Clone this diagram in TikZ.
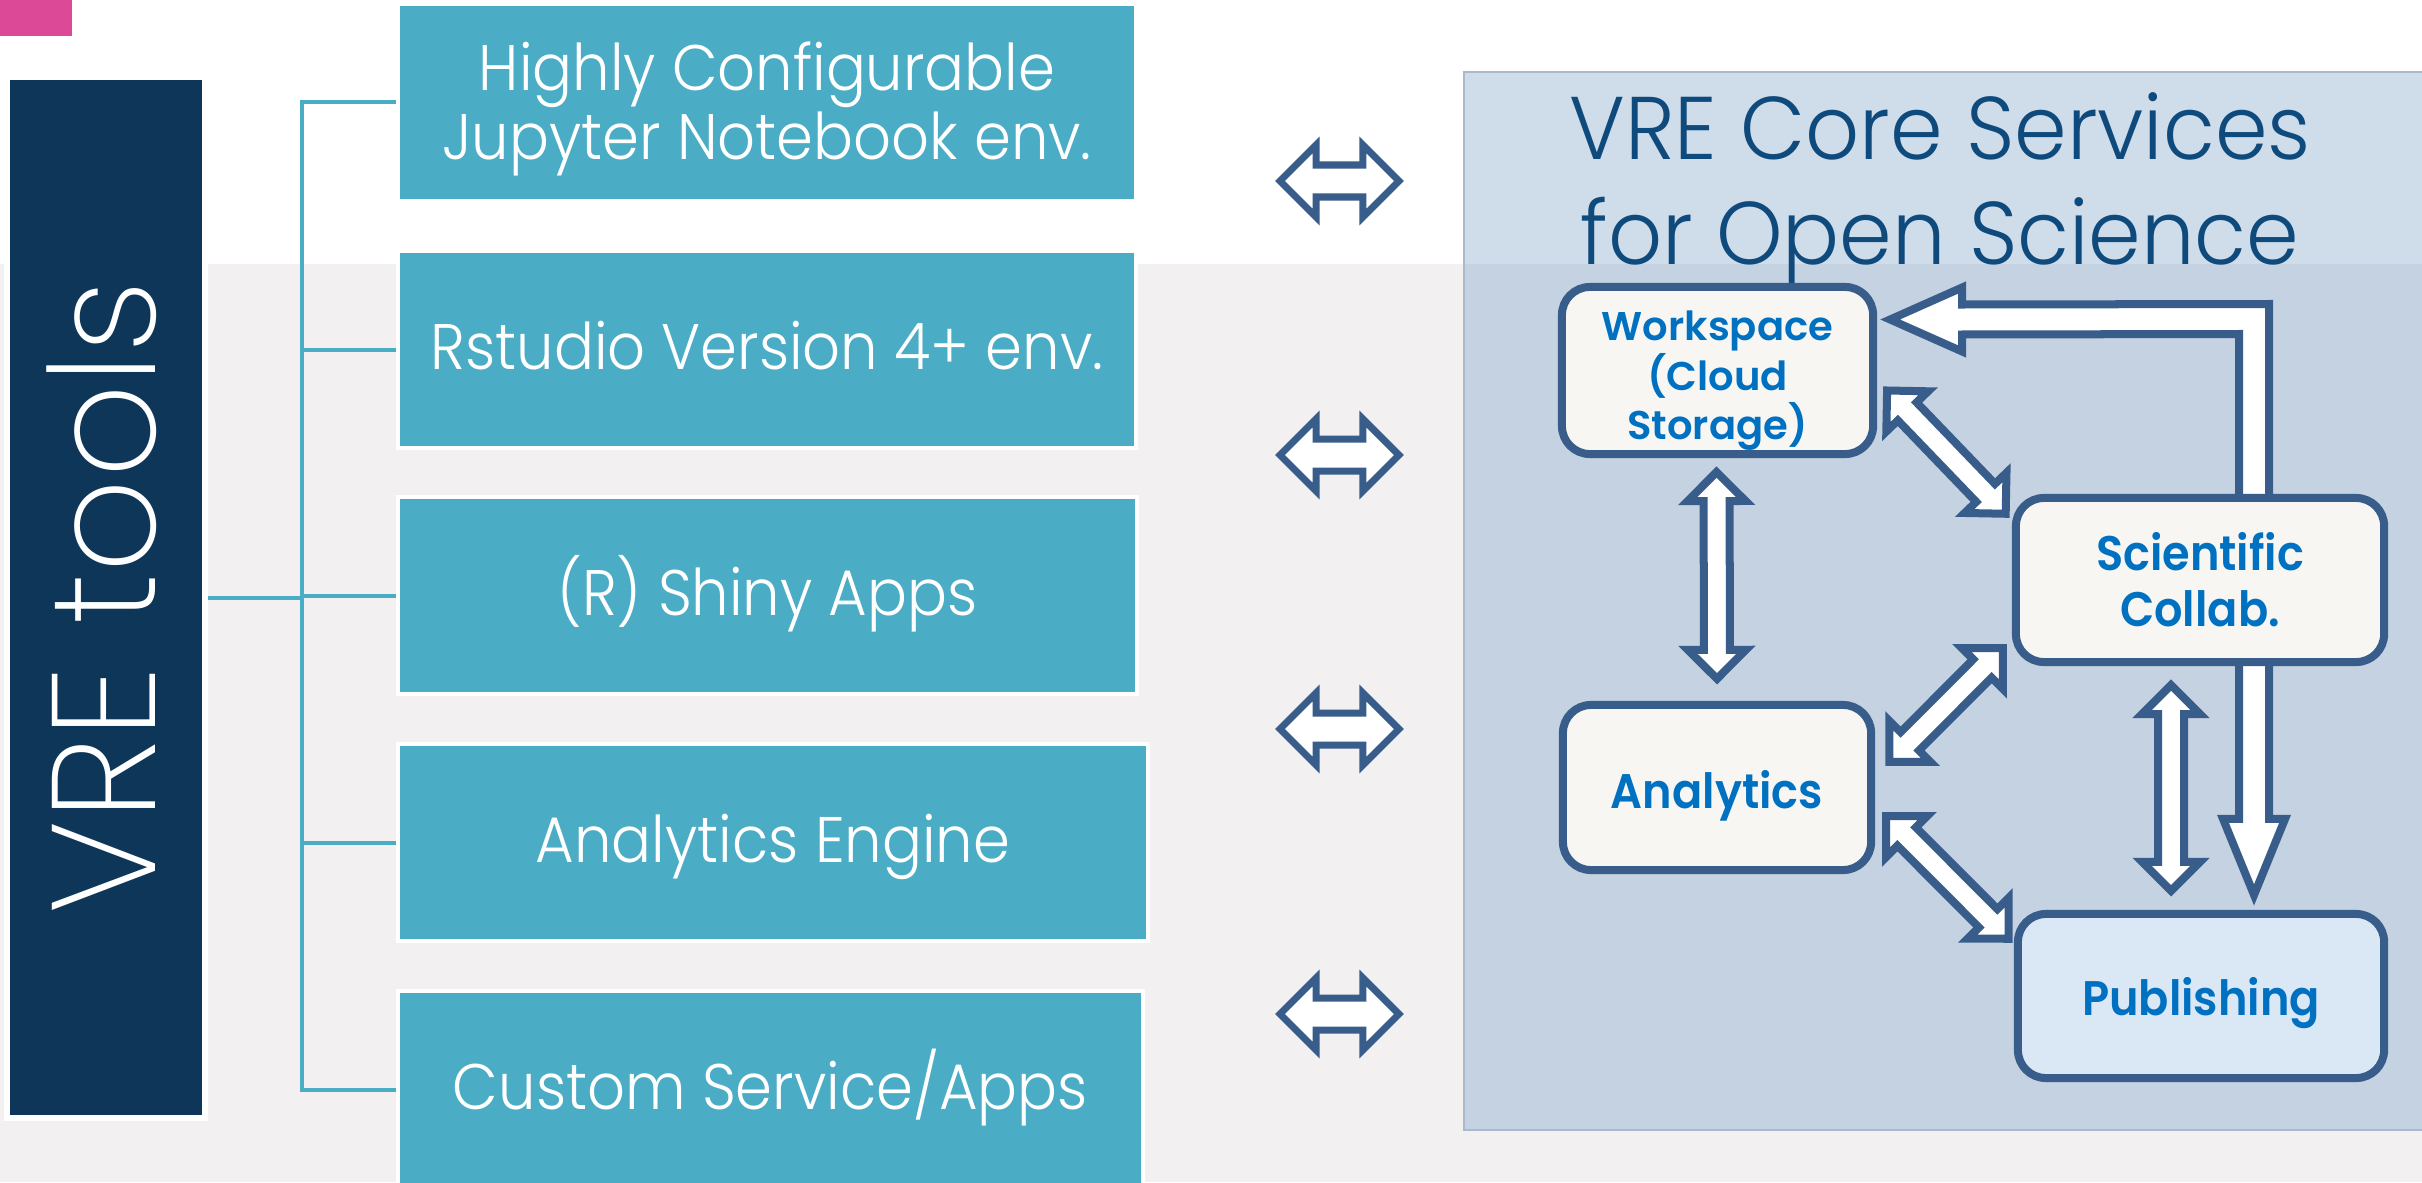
\documentclass[tikz,border=0pt]{standalone}
\usepackage{fontspec}
\setmainfont{Poppins}
\newfontfamily\lightfont{Poppins Light}[FakeStretch=0.92]
\newfontfamily\titlefont{Poppins Light}[FakeStretch=0.95]
\newfontfamily\thinfont{Poppins ExtraLight}
\newfontfamily\semifont{Poppins SemiBold}
\newfontfamily\semicond{Poppins SemiBold}[FakeStretch=0.92]
\usetikzlibrary{calc}

\definecolor{toolteal}{HTML}{4BACC6}
\definecolor{vredark}{HTML}{0E3659}
\definecolor{pinkbar}{HTML}{DC4A97}
\definecolor{bandgray}{HTML}{F2F0F1}
\definecolor{paneltop}{HTML}{CFDCEA}
\definecolor{panelbot}{HTML}{C5D2E2}
\definecolor{panelline}{HTML}{AAB9CE}
\definecolor{arrowblue}{HTML}{385D8A}
\definecolor{corefill}{HTML}{F7F6F3}
\definecolor{coretext}{HTML}{0070C0}
\definecolor{pubfill}{HTML}{DAE8F6}
\definecolor{titleblue}{HTML}{0F4A7D}

\tikzset{
    tool_node/.style = {rectangle, fill=toolteal, draw=white, line width=0.04cm, minimum height=1.96cm, inner sep=0pt, align=center, text=white, font=\lightfont\fontsize{18.3}{19.6}\selectfont},
    one_line/.style = {text height=0.45cm, text depth=0.06cm},
    vre_node/.style = {rectangle, fill=vredark, draw=white, line width=0.06cm, minimum width=1.98cm, minimum height=10.41cm, inner sep=0pt},
    core_node/.style = {rectangle, rounded corners=0.28cm, fill=corefill, draw=arrowblue, line width=0.08cm, inner sep=0pt, align=center, text=coretext, font=\semicond\fontsize{13.8}{15.9}\selectfont},
    fat_arrow/.style = {draw=arrowblue, fill=white, line width=0.08cm, line join=miter},
    br_line/.style = {draw=toolteal, line width=0.04cm}
}

% double block arrow: #2 half shaft, #3 head size (px), from #4 to #5
\newcommand{\dblarrow}[5][]{%
    \path let \p1=($(#5)-(#4)$) in \pgfextra{%
        \pgfmathsetmacro{\arrlen}{veclen(\x1,\y1)}%
        \pgfmathsetmacro{\arrang}{atan2(\y1,\x1)}%
        \global\let\arrlen\arrlen\global\let\arrang\arrang};
    \begin{scope}[shift={(#4)}, rotate=\arrang, x=0.01cm, y=0.01cm]
        \pgfmathsetmacro{\arrpx}{\arrlen/0.284528}
        \draw[fat_arrow, #1] (0,0) -- (#3,#3) -- (#3,#2) -- (\arrpx-#3,#2) -- (\arrpx-#3,#3) -- (\arrpx,0)
            -- (\arrpx-#3,-#3) -- (\arrpx-#3,-#2) -- (#3,-#2) -- (#3,-#3) -- cycle;
    \end{scope}}

\begin{document}
\begin{tikzpicture}[x=0.01cm, y=-0.01cm]
    \useasboundingbox (0,0) rectangle (2422,1182);
    \clip (0,0) rectangle (2422,1182);

    % background
    \fill[white] (0,0) rectangle (2422,1182);
    \fill[bandgray] (0,264) rectangle (2422,1182);
    \fill[pinkbar] (0,0) rectangle (72,36);

    % tools column
    \node[vre_node] (vre) at (106,597.5) {};
    \node[anchor=base, rotate=90, text=white, inner sep=0pt, font=\thinfont\fontsize{41.8}{41.8}\selectfont] (vretxt) at (155,597.5) {VRE tools};

    \node[tool_node, minimum width=7.38cm] (t1) at (767,102.5) {\rule{0pt}{0.62cm}Highly Configurable\\Jupyter Notebook env.};
    \node[tool_node, one_line, minimum width=7.38cm] (t2) at (767,349.5) {Rstudio Version 4+ env.};
    \node[tool_node, one_line, minimum width=7.39cm] (t3) at (767.5,595.5) {(R) Shiny Apps};
    \node[tool_node, one_line, minimum width=7.50cm] (t4) at (773,842.5) {Analytics Engine};
    \node[tool_node, one_line, minimum width=7.45cm] (t5) at (770.5,1089.5) {Custom Service/Apps};

    \coordinate (br) at (302,0);
    \draw[br_line] (t1.west) -| (br |- t5.west) -- (t5.west);
    \foreach \t in {t2,t3,t4}
        \draw[br_line] (\t.west) -- (\t.west -| br);
    \draw[br_line] (vre.east) -- (vre.east -| br);

    % links to the core
    \foreach \y [count=\i] in {181,455,729,1014} {
        \coordinate (la\i) at (1280,\y);
        \coordinate (ra\i) at (1399,\y);
        \dblarrow[line width=0.07cm]{16}{36}{la\i}{ra\i}
    }

    % core services panel
    \fill[paneltop] (1464,72) rectangle (2430,264);
    \fill[panelbot] (1464,264) rectangle (2430,1130);
    \draw[panelline, line width=0.02cm] (2430,72) -| (1464,1130) -- (2430,1130);

    \node[font=\titlefont\fontsize{25.3}{29.9}\selectfont, text=titleblue, align=center, inner sep=0pt] (title) at (1940,190) {VRE Core Services\\for Open Science};

    \node[core_node, minimum width=3.11cm, minimum height=1.67cm, font=\semifont\fontsize{11.4}{14.2}\selectfont] (ws) at (1717.5,370.5) {\rule{0pt}{0.5cm}Workspace\\(Cloud\\Storage)};
    \node[core_node, text height=0.41cm, text depth=0pt, minimum width=3.08cm, minimum height=1.65cm] (an) at (1717,787.5) {Analytics};
    \node[core_node, text height=0.38cm, text depth=0pt, fill=pubfill, minimum width=3.66cm, minimum height=1.64cm] (pub) at (2201,996) {Publishing};

    % loop back from publishing to workspace
    \coordinate (wstip) at ($(ws.east)+(13,-51)$);
    \coordinate (pubtip) at ($(pub.north)+(53,-15)$);
    \coordinate (bend) at (2254,319);
    \draw[fat_arrow] (wstip) -- ++(72,-32) -- ++(0,17) -- ($(bend)+(15,-15)$) -- ($(pubtip)+(15,-76)$) -- ++(16,0)
        -- (pubtip) -- ++(-31,-76) -- ++(16,0) -- ($(bend)+(-15,15)$) -- ($(wstip)+(72,15)$) -- ++(0,17) -- cycle;

    \node[core_node, minimum width=3.68cm, minimum height=1.64cm] (sc) at (2200,580) {Scientific\\Collab.};

    \coordinate (d1a) at ($(ws.south)+(-1,14)$);
    \coordinate (d1b) at ($(an.north)+(0,-22)$);
    \coordinate (d2a) at ($(sc.south)+(-29,19)$);
    \coordinate (d2b) at ($(pub.north)+(-30,-19)$);
    \coordinate (d3a) at ($(ws.east)+(10,20)$);
    \coordinate (d3b) at ($(sc.west)+(-6,-66)$);
    \coordinate (d4a) at ($(sc.west)+(-9,68)$);
    \coordinate (d4b) at ($(an.east)+(14,-25.5)$);
    \coordinate (d5a) at ($(an.east)+(11,28.5)$);
    \coordinate (d5b) at ($(pub.west)+(-5,-57)$);
    \dblarrow{13}{29}{d1a}{d1b}
    \dblarrow{13}{29}{d2a}{d2b}
    \dblarrow{13}{29}{d3a}{d3b}
    \dblarrow{13}{29}{d4a}{d4b}
    \dblarrow{13}{29}{d5a}{d5b}
\end{tikzpicture}
\end{document}
